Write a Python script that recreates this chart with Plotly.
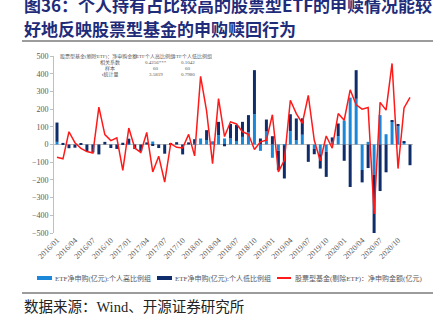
import plotly.graph_objects as go

# ---------------- data ----------------
months = [f"{y}/{m:02d}" for y in range(2016, 2021) for m in range(1, 13)]
tick_labels = ["2016/01", "2016/04", "2016/07", "2016/10", "2017/01", "2017/04", "2017/07",
               "2017/10", "2018/01", "2018/04", "2018/07", "2018/10", "2019/01", "2019/04",
               "2019/07", "2019/10", "2020/01", "2020/04", "2020/07", "2020/10"]
y_ticks = [500, 400, 300, 200, 100, 0, -100, -200, -300, -400, -500]

# ETF net subscription (100m CNY): high individual-holding group (light blue)
etf_high = [15, 0, 0, 0, 0, 0, 0, 0, 0, 0, 0, 0,
            5, 0, 0, 0, 17, 0, 0, 0, 0, 0, 0, 5,
            34, 25, 18, 53, 34, 34, 20, 43, 70, 172, -36, 73,
            -75, -35, -5, 75, 25, 55, 0, -25, -55, -41, 15, 47,
            136, 265, 258, -144, 15, -172, 166, 58, 132, 106, 12, 0]
# ETF net subscription (100m CNY): low individual-holding group (dark navy)
etf_low = [109, 9, -21, -18, 6, -38, -45, -56, 15, -20, -25, 10,
           28, -26, -38, 12, -8, -20, -52, 8, 13, -56, 12, 25,
           0, 56, 0, 75, -10, 82, 90, 85, 96, 248, 34, 68,
           47, -110, -187, 96, 122, 93, -98, -30, -81, -142, 25, 72,
           -92, -240, 162, -70, -133, -328, -263, -157, 5, 8, 7, -117]
# Equity funds (excl. ETF): net subscription (100m CNY)
fund_net = [-72, -81, 72, 10, -22, -40, -48, 211, 56, 22, 38, -146,
            93, -20, -45, 68, -155, -66, -212, 5, -16, -20, 57, -64,
            385, 190, -108, 259, 45, 128, 116, 72, 58, -28, 15, 24,
            168, -155, -89, 250, 175, 119, 277, 24, -92, 48, -21, 175,
            137, 309, 224, 200, 209, -392, 238, 194, 458, -136, 207, 266]

legend_names = ["ETF净申购(亿元):个人高比例组", "ETF净申购(亿元):个人低比例组",
                "股票型基金(剔除ETF)：净申购金额(亿元)"]

table_header = ["股票型基金(剔除ETF)：净申购金额", "ETF个人高比例组", "ETF个人低比例组"]
table_rows = [["相关系数", "0.4256***", "0.1042"],
              ["样本", "60", "60"],
              ["t统计量", "3.5819", "0.7980"]]

title_lines = ["图36：个人持有占比较高的股票型ETF的申赎情况能较",
               "好地反映股票型基金的申购赎回行为"]
source_text = "数据来源：Wind、开源证券研究所"

# ---------------- styling ----------------
LIGHT = "#1A87D8"
DARK = "#0F2C6B"
RED = "#FF1A1A"
GREY = "#595959"
AXIS = "#BFBFBF"
SERIF = "Liberation Serif, Noto Sans CJK SC"

W, H = 443, 324
L, R, T, B = 54, 413, 56, 233


def px(x):
    return (x - L) / (R - L)


def py(y):
    return (B - y) / (B - T)


fig = go.Figure()
fig.add_trace(go.Bar(x=months, y=etf_high, name=legend_names[0], marker_color=LIGHT,
                     marker_line_width=0))
fig.add_trace(go.Bar(x=months, y=etf_low, name=legend_names[1], marker_color=DARK,
                     marker_line_width=0))
fig.add_trace(go.Scatter(x=months, y=fund_net, name=legend_names[2], mode="lines",
                         line=dict(color=RED, width=1.5)))

annotations = []
shapes = []

# title
for i, t in enumerate(title_lines):
    annotations.append(dict(text=f"<b>{t}</b>", x=px(22), y=py(4 + 25 * i), xref="paper",
                            yref="paper", xanchor="left", yanchor="middle", showarrow=False,
                            font=dict(family="Noto Sans CJK SC", size=17, color="#1F2C7A")))
# rules
shapes.append(dict(type="line", xref="paper", yref="paper", x0=px(22), x1=px(433),
                   y0=py(41), y1=py(41), line=dict(color="#3A3A3A", width=1.2)))
shapes.append(dict(type="line", xref="paper", yref="paper", x0=px(22), x1=px(433),
                   y0=py(293), y1=py(293), line=dict(color="#3A3A3A", width=1.2)))
# source
annotations.append(dict(text=source_text, x=px(22), y=py(307), xref="paper", yref="paper",
                        xanchor="left", yanchor="middle", showarrow=False,
                        font=dict(family=SERIF, size=14.5, color="#222222")))

# inset table
hdr_x = [98, 155, 192]
for t, xc in zip(table_header, hdr_x):
    annotations.append(dict(text=t, x=px(xc), y=py(56), xref="paper", yref="paper",
                            xanchor="center", yanchor="middle", showarrow=False,
                            font=dict(family=SERIF, size=5, color=GREY)))
row_y = [62.5, 68.5, 74.5]
col_x = [110, 156, 188]
for row, yy in zip(table_rows, row_y):
    for t, xc in zip(row, col_x):
        annotations.append(dict(text=t, x=px(xc), y=py(yy), xref="paper", yref="paper",
                                xanchor="center", yanchor="middle", showarrow=False,
                                font=dict(family=SERIF, size=5, color=GREY)))

# manual legend
leg_y = 278
shapes.append(dict(type="rect", xref="paper", yref="paper", x0=px(37), x1=px(52),
                   y0=py(276), y1=py(280), fillcolor=LIGHT, line_width=0))
shapes.append(dict(type="rect", xref="paper", yref="paper", x0=px(157), x1=px(172),
                   y0=py(276), y1=py(280), fillcolor=DARK, line_width=0))
shapes.append(dict(type="line", xref="paper", yref="paper", x0=px(277), x1=px(291),
                   y0=py(278), y1=py(278), line=dict(color=RED, width=2)))
for t, xl in zip(legend_names, [53, 173, 293]):
    annotations.append(dict(text=t, x=px(xl), y=py(leg_y), xref="paper", yref="paper",
                            xanchor="left", yanchor="middle", showarrow=False,
                            font=dict(family=SERIF, size=7, color=GREY)))

fig.update_layout(
    width=W, height=H,
    margin=dict(l=L, r=W - R, t=T, b=H - B, pad=0),
    paper_bgcolor="white", plot_bgcolor="white",
    barmode="relative", bargap=0.5,
    showlegend=False,
    annotations=annotations, shapes=shapes,
    xaxis=dict(type="category", categoryorder="array", categoryarray=months,
               range=[-0.5, len(months) - 0.5], tickmode="array", tickvals=tick_labels,
               ticktext=tick_labels, tickangle=-45, showgrid=False, showline=False,
               zeroline=False, ticks="",
               tickfont=dict(family=SERIF, size=8, color=GREY)),
    yaxis=dict(range=[-500, 500], tickmode="array", tickvals=y_ticks,
               showgrid=False, showline=True, linecolor=AXIS, linewidth=1,
               ticks="outside", ticklen=3, tickcolor=AXIS,
               zeroline=True, zerolinecolor=AXIS, zerolinewidth=1,
               tickfont=dict(family=SERIF, size=8, color=GREY)),
)

fig.write_html("out.html")
